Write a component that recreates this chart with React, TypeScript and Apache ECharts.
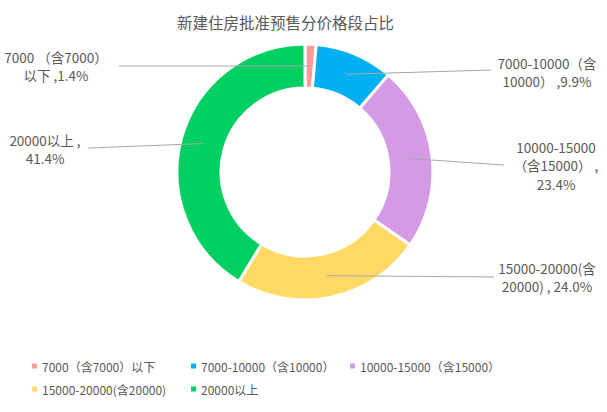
import React, { useEffect, useRef } from "react";
import * as echarts from "echarts";

const categories = [
  "7000（含7000）以下",
  "7000-10000（含10000）",
  "10000-15000（含15000）",
  "15000-20000(含20000)",
  "20000以上",
];
const values = [1.4, 9.9, 23.4, 24.0, 41.4];
const labelTexts = [
  "7000 （含7000）\n以下 ,1.4%",
  "7000-10000（含\n10000） ,9.9%",
  "10000-15000\n（含15000） ,\n23.4%",
  "15000-20000(含\n20000) , 24.0%",
  "20000以上 ,\n41.4%",
];
const colors = ["#FF9999", "#00B0F0", "#D59AE6", "#FFD966", "#00D062"];

// layout (pixels)
const CX = 305;
const CY = 172;
const R_IN = 84;
const R_OUT = 128;
const labelPos = [
  { x: 56, y: 66, lx: 119, ly: 66 },
  { x: 547, y: 72, lx: 491, ly: 70 },
  { x: 556, y: 165, lx: 504, ly: 165 },
  { x: 547, y: 277, lx: 494, ly: 277 },
  { x: 45, y: 149, lx: 88, ly: 148 },
];
const legendPos = [
  { left: 30, top: 360 },
  { left: 189, top: 360 },
  { left: 348, top: 360 },
  { left: 30, top: 383 },
  { left: 189, top: 383 },
];

const FONT = "'Noto Sans CJK SC', 'Noto Sans', sans-serif";

export default function App() {
  const ref = useRef<HTMLDivElement>(null);
  useEffect(() => {
    if (!ref.current) return;
    const chart = echarts.init(ref.current, undefined, { renderer: "svg" });
    const total = values.reduce((a, b) => a + b, 0);
    const midAngles: number[] = [];
    let acc = 0;
    values.forEach((v) => {
      midAngles.push(((acc + v / 2) / total) * Math.PI * 2);
      acc += v;
    });
    const rMid = (R_IN + R_OUT) / 2;
    const data = categories.map((c, i) => ({ name: c, value: values[i] }));
    chart.setOption({
      animation: false,
      color: colors,
      textStyle: { fontFamily: FONT },
      title: {
        text: "新建住房批准预售分价格段占比",
        left: 172,
        top: 9,
        textStyle: { fontFamily: FONT, fontSize: 15.5, fontWeight: "normal", color: "#595959" },
      },
      legend: categories.map((c, i) => ({
        data: [c],
        left: legendPos[i].left,
        top: legendPos[i].top,
        itemWidth: 7,
        itemHeight: 7,
        itemGap: 0,
        padding: 0,
        icon: "rect",
        textStyle: { fontFamily: FONT, fontSize: 12, color: "#595959", padding: [0, 0, 0, -1] },
        selectedMode: false,
      })),
      series: [
        {
          type: "pie",
          z: 1,
          center: [CX, CY],
          radius: [R_IN, R_OUT],
          startAngle: 90,
          clockwise: true,
          itemStyle: { borderColor: "#fff", borderWidth: 3 },
          label: { show: false },
          labelLine: { show: false },
          emphasis: { disabled: true },
          data,
        },
        {
          type: "pie",
          z: 5,
          center: [CX, CY],
          radius: [R_IN, R_OUT],
          startAngle: 90,
          clockwise: true,
          silent: true,
          legendHoverLink: false,
          itemStyle: { color: "rgba(0,0,0,0)", borderWidth: 0 },
          label: {
            show: true,
            position: "outside",
            formatter: (p: any) => labelTexts[p.dataIndex],
            fontFamily: FONT,
            fontSize: 13.5,
            lineHeight: 18.5,
            color: "#595959",
            align: "center",
          },
          labelLine: { show: true, lineStyle: { color: "#A6A6A6", width: 1 } },
          labelLayout: (params: any) => {
            const i = params.dataIndex;
            const a = midAngles[i];
            const sx = CX + rMid * Math.sin(a);
            const sy = CY - rMid * Math.cos(a);
            const lp = labelPos[i];
            return {
              x: lp.x,
              y: lp.y,
              align: "center",
              verticalAlign: "middle",
              labelLinePoints: [
                [sx, sy],
                [lp.lx, lp.ly],
                [lp.lx, lp.ly],
              ],
            };
          },
          emphasis: { disabled: true },
          data,
        },
      ],
    });
    return () => chart.dispose();
  }, []);
  return (
    <div
      ref={ref}
      style={{ position: "fixed", left: 0, top: 0, width: 607, height: 412, background: "#fff" }}
    />
  );
}
